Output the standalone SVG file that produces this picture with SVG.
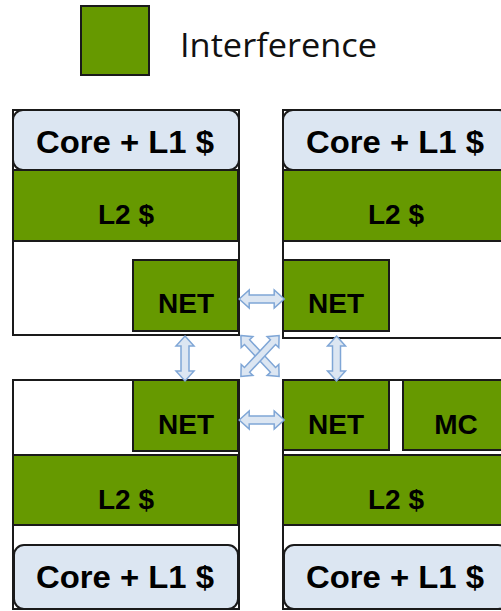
<svg xmlns="http://www.w3.org/2000/svg" width="501" height="611" viewBox="0 0 501 611">
<defs>
<style>
.frame{fill:#ffffff;stroke:#1a1a1a;stroke-width:2}
.core{fill:#dce6f2;stroke:#1a1a1a;stroke-width:2}
.green{fill:#669900;stroke:#1a1a1a;stroke-width:2}
.big{font-family:"Liberation Sans",Arial,sans-serif;font-weight:bold;font-size:31px;fill:#000;text-anchor:middle}
.lbl{font-family:"Liberation Sans",Arial,sans-serif;font-weight:bold;font-size:28px;fill:#000;text-anchor:middle}
.legend{font-family:"Open Sans","Liberation Sans",sans-serif;font-size:32px;fill:#111}
.arrow{fill:#dce6f2;stroke:#7fa6d6;stroke-width:1.5;stroke-linejoin:miter}
</style>
<path id="h45" d="M-22.5,0 L-12.5,-9 L-12.5,-4 L12.5,-4 L12.5,-9 L22.5,0 L12.5,9 L12.5,4 L-12.5,4 L-12.5,9 Z"/>
<path id="x56" d="M-28,0 L-19,-8 L-19,-3.5 L19,-3.5 L19,-8 L28,0 L19,8 L19,3.5 L-19,3.5 L-19,8 Z"/>
</defs>

<g id="legend">
<rect x="81" y="6" width="68" height="69" class="green"/>
<text x="180" y="57" class="legend" textLength="197" lengthAdjust="spacingAndGlyphs">Interference</text>
</g>

<g id="tile-top-left">
<rect x="13" y="110" width="226" height="225" class="frame"/>
<g id="tl-core"><rect x="13" y="110" width="226" height="60" rx="10" class="core"/><text x="125" y="152.5" class="big" textLength="178" lengthAdjust="spacingAndGlyphs">Core + L1 $</text></g>
<g id="tl-l2"><rect x="13" y="170" width="225" height="71" class="green"/><text x="126" y="224" class="lbl">L2 $</text></g>
<g id="tl-net"><rect x="133" y="260" width="105" height="71" class="green"/><text x="186" y="313" class="lbl">NET</text></g>
</g>

<g id="tile-top-right">
<rect x="283" y="110" width="226" height="228" class="frame"/>
<g id="tr-core"><rect x="283" y="110" width="226" height="60" rx="10" class="core"/><text x="395" y="152.5" class="big" textLength="178" lengthAdjust="spacingAndGlyphs">Core + L1 $</text></g>
<g id="tr-l2"><rect x="283" y="170" width="226" height="71" class="green"/><text x="396" y="224" class="lbl">L2 $</text></g>
<g id="tr-net"><rect x="283" y="260" width="106" height="71" class="green"/><text x="336" y="313" class="lbl">NET</text></g>
</g>

<g id="tile-bottom-left">
<rect x="13" y="380" width="226" height="229" class="frame"/>
<g id="bl-net"><rect x="133" y="380" width="105" height="71" class="green"/><text x="186" y="434" class="lbl">NET</text></g>
<g id="bl-l2"><rect x="13" y="455" width="225" height="70" class="green"/><text x="126" y="509" class="lbl">L2 $</text></g>
<g id="bl-core"><rect x="14" y="545" width="224" height="64" rx="10" class="core"/><text x="125" y="588" class="big" textLength="178" lengthAdjust="spacingAndGlyphs">Core + L1 $</text></g>
</g>

<g id="tile-bottom-right">
<rect x="283" y="380" width="226" height="229" class="frame"/>
<g id="br-net"><rect x="283" y="380" width="106" height="70" class="green"/><text x="336" y="434" class="lbl">NET</text></g>
<g id="br-mc"><rect x="403" y="380" width="106" height="70" class="green"/><text x="456" y="434" class="lbl">MC</text></g>
<g id="br-l2"><rect x="283" y="455" width="226" height="70" class="green"/><text x="396" y="509" class="lbl">L2 $</text></g>
<g id="br-core"><rect x="284" y="545" width="224" height="64" rx="10" class="core"/><text x="395" y="588" class="big" textLength="178" lengthAdjust="spacingAndGlyphs">Core + L1 $</text></g>
</g>

<g id="connectors">
<use href="#h45" class="arrow" transform="translate(261.7,299)"/>
<use href="#h45" class="arrow" transform="translate(261.7,420)"/>
<use href="#h45" class="arrow" transform="translate(185,358.5) rotate(90)"/>
<use href="#h45" class="arrow" transform="translate(336.5,358.5) rotate(90)"/>
<use href="#x56" class="arrow" transform="translate(260,356) rotate(47)"/>
<use href="#x56" class="arrow" transform="translate(260,356) rotate(-47)"/>
</g>
</svg>
